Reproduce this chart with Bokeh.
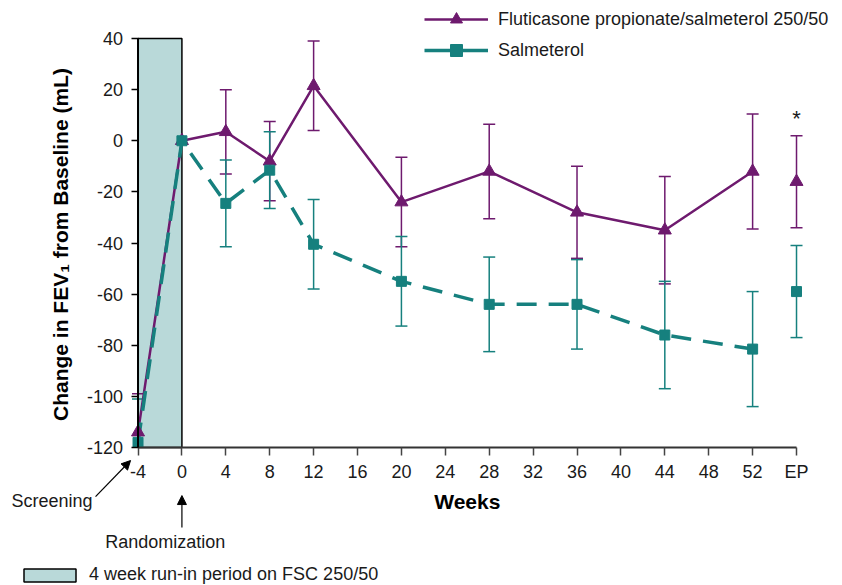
import math
import numpy as np
from bokeh.plotting import figure
from bokeh.models import (Range1d, FixedTicker, Legend, LegendItem, Label, Arrow, NormalHead)
from bokeh.embed import file_html
from bokeh.resources import INLINE

# ---------------- data ----------------
weeks = [-4, 0, 4, 8, 12, 20, 28, 36, 44, 52]
fsc_mean = [-114, 0, 3.5, -8, 21.5, -24, -12, -28, -35, -12]
fsc_se = [15, 0, 16.5, 15.5, 17.5, 17.5, 18.5, 18, 21, 22.5]
sal_mean = [-118, 0, -24.5, -11.5, -40.5, -55, -64, -64, -76, -81.5]
sal_se = [17, 0, 17, 15, 17.5, 17.5, 18.5, 17.5, 21, 22.5]

ep_pos = 56
fsc_ep_mean = -16
fsc_ep_se = 18
sal_ep_mean = -59
sal_ep_se = 18

runin_start = -4
runin_end = 0

x_ticks = [-4, 0, 4, 8, 12, 16, 20, 24, 28, 32, 36, 40, 44, 48, 52, 56]
x_tick_labels = ["-4", "0", "4", "8", "12", "16", "20", "24", "28", "32",
                 "36", "40", "44", "48", "52", "EP"]
y_ticks = [-120, -100, -80, -60, -40, -20, 0, 20, 40]
y_tick_labels = ["-120", "-100", "-80", "-60", "-40", "-20", "0", "20", "40"]

fsc_label = "Fluticasone propionate/salmeterol 250/50"
sal_label = "Salmeterol"
runin_label = "4 week run-in period on FSC 250/50"
y_title = "Change in FEV\u2081 from Baseline (mL)"
x_title = "Weeks"

# ---------------- style ----------------
PURPLE = "#6e1a6e"
TEAL = "#16807e"
SHADE = "#b9d9d9"
FONT = "Liberation Sans"
TXT = "#1a1a1a"

W, H = 842, 585
p = figure(width=W, height=H, output_backend="svg", toolbar_location=None,
           x_range=Range1d(-16.53, 60.19), y_range=Range1d(-173.99, 54.87),
           min_border_left=0, min_border_right=0, min_border_top=0,
           min_border_bottom=0)
p.outline_line_color = None
p.grid.visible = False
p.background_fill_color = "white"
p.border_fill_color = "white"

ymin, ymax = y_ticks[0], y_ticks[-1]
xmin, xmax = x_ticks[0], x_ticks[-1]

# run-in shaded period
shade = p.quad(left=[runin_start], right=[runin_end], bottom=[ymin], top=[ymax],
               fill_color=SHADE, line_color="black", line_width=1.5)


def errbars(xs, m, se, color):
    xs2, lo, hi, cx, cy = [], [], [], [], []
    for x, mm, s in zip(xs, m, se):
        if s <= 0:
            continue
        l, h = mm - s, mm + s
        xs2.append(x)
        lo.append(max(l, ymin))
        hi.append(h)
        cx.append(x)
        cy.append(h)
        if l >= ymin:
            cx.append(x)
            cy.append(l)
    p.segment(x0=xs2, y0=lo, x1=xs2, y1=hi, line_color=color, line_width=1.5)
    p.scatter(cx, cy, marker="dash", size=12, line_color=color, line_width=1.5)


errbars(weeks + [ep_pos], fsc_mean + [fsc_ep_mean], fsc_se + [fsc_ep_se], PURPLE)
errbars(weeks + [ep_pos], sal_mean + [sal_ep_mean], sal_se + [sal_ep_se], TEAL)

fsc_line = p.line(weeks, fsc_mean, line_color=PURPLE, line_width=2.5)
sal_line = p.line(weeks, sal_mean, line_color=TEAL, line_width=3.5, line_dash="20 12")

fsc_mark = p.scatter(weeks + [ep_pos], fsc_mean + [fsc_ep_mean], marker="triangle", size=13,
                     fill_color=PURPLE, line_color=PURPLE)
sal_mark = p.scatter(weeks + [ep_pos], sal_mean + [sal_ep_mean], marker="square", size=10,
                     fill_color=TEAL, line_color=TEAL)

# solid line for legend only
sal_leg_line = p.line([np.nan], [np.nan], line_color=TEAL, line_width=3.5)

# axis lines (only over the data extent)
p.segment(x0=[xmin], y0=[ymin], x1=[xmax], y1=[ymin], line_color="#333333", line_width=2)
p.segment(x0=[xmin], y0=[ymin], x1=[xmin], y1=[ymax], line_color="black", line_width=2)

# ---------------- axes ----------------
p.yaxis.fixed_location = xmin
p.yaxis.ticker = FixedTicker(ticks=y_ticks)
p.yaxis.major_label_overrides = dict(zip(y_ticks, y_tick_labels))
p.yaxis.axis_line_color = None
p.yaxis.major_tick_line_color = "black"
p.yaxis.major_tick_line_width = 1.5
p.yaxis.major_tick_out = 7
p.yaxis.major_tick_in = 0
p.yaxis.minor_tick_line_color = None
p.yaxis.major_label_standoff = 8
p.yaxis.major_label_text_font = FONT
p.yaxis.major_label_text_font_size = "18px"
p.yaxis.major_label_text_color = TXT

p.xaxis.fixed_location = ymin
p.xaxis.ticker = FixedTicker(ticks=x_ticks)
p.xaxis.major_label_overrides = dict(zip(x_ticks, x_tick_labels))
p.xaxis.axis_line_color = None
p.xaxis.major_tick_line_color = "#444444"
p.xaxis.major_tick_line_width = 1.5
p.xaxis.major_tick_out = 8
p.xaxis.major_tick_in = 0
p.xaxis.minor_tick_line_color = None
p.xaxis.major_label_standoff = 7
p.xaxis.major_label_text_font = FONT
p.xaxis.major_label_text_font_size = "18px"
p.xaxis.major_label_text_color = TXT

# axis titles
p.add_layout(Label(x=-11.06, y=-40.6, text=y_title, angle=math.pi / 2, text_align="center",
                   text_baseline="middle", text_font=FONT, text_font_size="21px",
                   text_font_style="bold", text_color="black"))
p.add_layout(Label(x=26.0, y=-141.0, text=x_title, text_align="center",
                   text_baseline="middle", text_font=FONT, text_font_size="21px",
                   text_font_style="bold", text_color="black"))

# ---------------- legends ----------------
top_legend = Legend(items=[LegendItem(label=fsc_label, renderers=[fsc_line, fsc_mark]),
                           LegendItem(label=sal_label, renderers=[sal_leg_line, sal_mark])],
                    location=(424, 520), orientation="vertical",
                    border_line_color=None, background_fill_alpha=0,
                    padding=0, margin=0, spacing=1, glyph_width=64, glyph_height=30,
                    label_height=30, label_standoff=10, label_text_font=FONT,
                    label_text_font_size="18px", label_text_color=TXT)
p.add_layout(top_legend)

bottom_legend = Legend(items=[LegendItem(label=runin_label, renderers=[shade])],
                       location=(17, 0), orientation="vertical",
                       border_line_color=None, background_fill_alpha=0,
                       padding=0, margin=0, glyph_width=65, glyph_height=16,
                       label_height=16, label_standoff=7, label_text_font=FONT,
                       label_text_font_size="18px", label_text_color=TXT)
p.add_layout(bottom_legend)

# ---------------- annotations ----------------
p.add_layout(Label(x=ep_pos, y=8.7, text="*", text_align="center", text_baseline="middle",
                   text_font=FONT, text_font_size="22px", text_color=TXT))

p.add_layout(Label(x=-8.15, y=-140.75, text="Screening", text_align="right",
                   text_baseline="middle", text_font=FONT, text_font_size="18px",
                   text_color=TXT))
p.add_layout(Arrow(x_start=-7.87, y_start=-139.2, x_end=-4.68, y_end=-125.1,
                   line_color="black", line_width=1.2,
                   end=NormalHead(size=9, fill_color="black", line_color="black")))

p.add_layout(Label(x=-1.52, y=-157.1, text="Randomization", text_align="center",
                   text_baseline="middle", text_font=FONT, text_font_size="18px",
                   text_color=TXT))
p.add_layout(Arrow(x_start=0, y_start=-151.3, x_end=0, y_end=-138.8,
                   line_color="black", line_width=1.2,
                   end=NormalHead(size=9, fill_color="black", line_color="black")))

open("out.html", "w").write(file_html(p, INLINE))
